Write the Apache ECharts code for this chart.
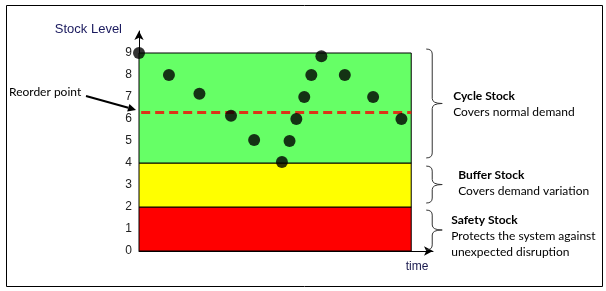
<!DOCTYPE html>
<html>
<head>
<meta charset="utf-8">
<script src="https://cdn.jsdelivr.net/npm/echarts@6/dist/echarts.min.js"></script>
<style>
  html, body { margin: 0; padding: 0; background: #fff; }
  #chart { width: 606px; height: 291px; }
</style>
</head>
<body>
<div id="chart"></div>
<script>
// stock level readings over time (x in % of the time span)
const sampleTimes = [0, 11, 22.2, 33.8, 42.3, 52.5, 55.3, 57.8, 60.7, 63.3, 67, 75.6, 86, 96.4];
const stockLevels = [9, 8, 7.15, 6.15, 5.05, 4.05, 5, 6, 7, 8, 8.85, 8, 7, 6];
const reorderLevel = 6.3;

// zones: safety / buffer / cycle
const zoneBounds = [[0, 2], [2, 4], [4, 9]];
const zoneNames = ["Safety Stock", "Buffer Stock", "Cycle Stock"];
const braceRanges = [[0.05, 1.86], [2.18, 3.86], [4.23, 9.18]];
const braceNotes = [
  ["Protects the system against", "unexpected disruption"],
  ["Covers demand variation"],
  ["Covers normal demand"]
];
const yTicks = [0, 1, 2, 3, 4, 5, 6, 7, 8, 9];

const zoneColors = ["#ff0000", "#ffff00", "#66ff66"];
const textFont = "Lato, 'Open Sans', sans-serif";
const axisFont = "'Liberation Sans', Arial, sans-serif";

// per-brace label layout (px offsets from the brace)
const titleDx = [40, 47, 42];
const titleDy = [-10, -9, -7];

const chart = echarts.init(document.getElementById("chart"), null, { renderer: "canvas" });

chart.setOption({
  animation: false,
  grid: { left: 139, right: 173, top: 31, bottom: 40 },
  xAxis: {
    type: "value",
    min: 0,
    max: 108,
    splitLine: { show: false },
    axisTick: { show: false },
    axisLabel: { show: false },
    axisLine: { lineStyle: { color: "#000", width: 1 }, symbol: ["none", "arrow"], symbolSize: [7, 9] },
    name: "time",
    nameLocation: "end",
    nameGap: -16,
    nameTextStyle: {
      color: "#1a1a4e", fontFamily: axisFont, fontSize: 12,
      align: "center", verticalAlign: "top", padding: [10, 0, 0, 0]
    }
  },
  yAxis: {
    type: "value",
    min: 0,
    max: 10,
    interval: 1,
    splitLine: { show: false },
    axisTick: { show: false },
    axisLine: { lineStyle: { color: "#000", width: 1 }, symbol: ["none", "arrow"], symbolSize: [7, 9] },
    axisLabel: {
      color: "#222", fontFamily: axisFont, fontSize: 12, margin: 7,
      formatter: (v) => (yTicks.includes(v) ? String(v) : "")
    },
    name: "Stock Level",
    nameLocation: "end",
    nameGap: -5,
    nameTextStyle: {
      color: "#1a1a5e", fontFamily: axisFont, fontSize: 13,
      align: "right", verticalAlign: "bottom", padding: [0, 17, 0, 0]
    }
  },
  series: [
    {
      name: "zones",
      type: "line",
      data: [],
      markArea: {
        silent: true,
        label: { show: false },
        data: zoneBounds.map((b, i) => [
          { name: zoneNames[i], xAxis: 0, yAxis: b[0], itemStyle: { color: zoneColors[i], borderColor: "#000", borderWidth: 1 } },
          { xAxis: 100, yAxis: b[1] }
        ])
      }
    },
    {
      name: "Reorder point",
      type: "line",
      symbol: "none",
      data: [[0.8, reorderLevel], [100, reorderLevel]],
      lineStyle: { color: "#dc3418", width: 3, type: [9, 5] },
      z: 3
    },
    {
      name: "Stock level",
      type: "scatter",
      symbolSize: 12,
      clip: false,
      itemStyle: { color: "#000" },
      data: sampleTimes.map((t, i) => [t, stockLevels[i]]),
      z: 4
    },
    {
      name: "braces",
      type: "custom",
      clip: false,
      silent: true,
      data: braceRanges.map((r, i) => [r[0], r[1], i]),
      renderItem: (params, api) => {
        const i = api.value(2);
        const top = api.coord([100, api.value(1)]);
        const bot = api.coord([100, api.value(0)]);
        const x0 = top[0] + 15, xv = x0 + 6, xt = x0 + 16;
        const yT = top[1], yB = bot[1], yM = (yT + yB) / 2;
        const path = `M${x0} ${yT} Q${xv} ${yT} ${xv} ${yT + 5} L${xv} ${yM - 5} Q${xv} ${yM} ${xt} ${yM}` +
          ` Q${xv} ${yM} ${xv} ${yM + 5} L${xv} ${yB - 5} Q${xv} ${yB} ${x0} ${yB}`;
        const tx = top[0] + titleDx[i];
        const ty = yM + titleDy[i];
        const children = [
          { type: "path", shape: { pathData: path }, style: { stroke: "#333", lineWidth: 1, fill: null } },
          {
            type: "text", x: tx, y: ty,
            style: { text: zoneNames[i], fontFamily: textFont, fontSize: 12, fontWeight: "bold", fill: "#000", verticalAlign: "middle" }
          }
        ];
        braceNotes[i].forEach((line, k) => {
          children.push({
            type: "text", x: tx, y: ty + 16 * (k + 1),
            style: { text: line, fontFamily: textFont, fontSize: 12, fill: "#000", verticalAlign: "middle" }
          });
        });
        return { type: "group", children };
      }
    }
  ],
  graphic: [
    { type: "rect", shape: { x: 6.5, y: 5.5, width: 596, height: 281 }, style: { fill: null, stroke: "#000", lineWidth: 1 } },
    { type: "text", x: 9, y: 92, style: { text: "Reorder point", fontFamily: textFont, fontSize: 12, fill: "#000", verticalAlign: "middle" } },
    { type: "line", shape: { x1: 86, y1: 96, x2: 128.3, y2: 107.8 }, style: { stroke: "#000", lineWidth: 2 } },
    { type: "polygon", shape: { points: [[136, 110], [127.2, 111.6], [129.4, 104]] }, style: { fill: "#000" } }
  ]
});
</script>
</body>
</html>
